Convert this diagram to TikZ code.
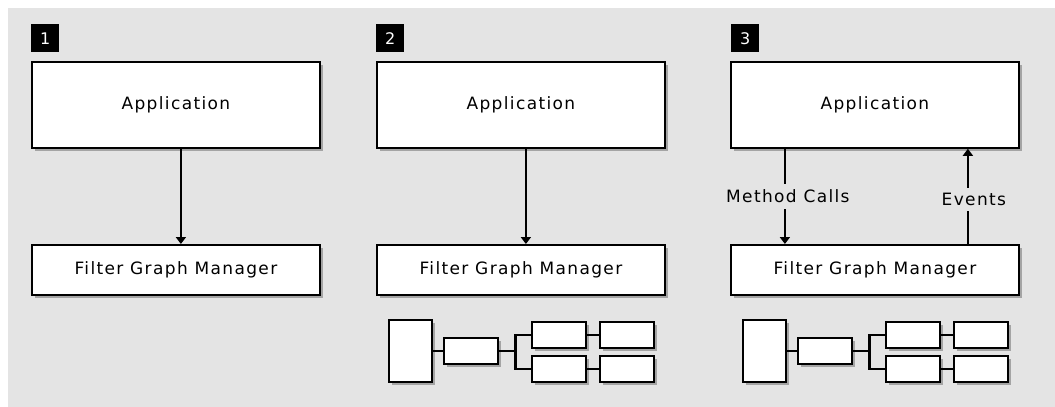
\documentclass[tikz,border=0pt]{standalone}
\usepackage{fontspec}
\setmainfont{DejaVu Sans}
\newfontfamily\lblfont[LetterSpace=8]{DejaVu Sans}
\usetikzlibrary{arrows.meta,shadows}
\definecolor{bg}{HTML}{E4E4E4}
\definecolor{shd}{HTML}{A4A4A4}
\tikzset{
  x=1pt, y=-1pt,
  shad/.style={drop shadow={shadow xshift=3pt, shadow yshift=-3pt, fill=shd, opacity=1}},
  bigbox/.style={draw=black, line width=1.8pt, fill=white, minimum width=288pt,
    inner sep=0pt, anchor=north west, shad,
    font=\lblfont\fontsize{17}{19}\selectfont},
  appbox/.style={bigbox, minimum height=86pt},
  fgmbox/.style={bigbox, minimum height=50pt},
  badge/.style={fill=black, text=white, minimum width=28pt, minimum height=28pt,
    inner sep=0pt, anchor=north west, font=\fontsize{16}{18}\selectfont},
  fbox/.style={draw=black, line width=2.4pt, fill=white, inner sep=0pt,
    anchor=north west, shad, minimum width=54pt, minimum height=26pt},
  tallbox/.style={fbox, minimum width=43pt, minimum height=62pt},
  link/.style={draw=black, line width=2.2pt},
  arr/.style={draw=black, line width=1.8pt, -{Triangle[width=10pt,length=7pt]}},
  lbl/.style={fill=bg, inner xsep=2pt, font=\lblfont\fontsize{17}{19}\selectfont},
}
\newcommand{\fgraph}[2]{%
  \node[tallbox] (big#2) at (#1,319) {};
  \node[fbox] (mid#2) at (#1+55,337) {};
  \node[fbox] (ta#2) at (#1+143,321) {};
  \node[fbox] (tb#2) at (#1+211,321) {};
  \node[fbox] (ba#2) at (#1+143,355) {};
  \node[fbox] (bb#2) at (#1+211,355) {};
  \draw[link] (big#2.east) -- (mid#2.west);
  \draw[link] (mid#2.east) -- ++(16,0) coordinate (br#2) |- (ta#2.west);
  \draw[link] (br#2) |- (ba#2.west);
  \draw[link] (ta#2) -- (tb#2);
  \draw[link] (ba#2) -- (bb#2);
}
\begin{document}
\begin{tikzpicture}
\useasboundingbox (0,0) rectangle (1055,407);
\fill[white] (0,0) rectangle (1055,407);
\fill[bg] (8,8) rectangle (1055,407);

% panel 1
\node[badge] (b1) at (31,24) {1};
\node[appbox] (app1) at (31,61) {Application};
\node[fgmbox] (fgm1) at (31,244) {Filter Graph Manager};
\draw[arr] ([xshift=5pt]app1.south) -- ([xshift=5pt]fgm1.north);

% panel 2
\node[badge] (b2) at (376,24) {2};
\node[appbox] (app2) at (376,61) {Application};
\node[fgmbox] (fgm2) at (376,244) {Filter Graph Manager};
\draw[arr] ([xshift=5pt]app2.south) -- ([xshift=5pt]fgm2.north);
\fgraph{388}{2}

% panel 3
\node[badge] (b3) at (731,24) {3};
\node[appbox] (app3) at (730,61) {Application};
\node[fgmbox] (fgm3) at (730,244) {Filter Graph Manager};
\draw[arr] ([xshift=-90pt]app3.south) -- node[lbl, xshift=3pt, inner ysep=6pt] {Method Calls} ([xshift=-90pt]fgm3.north);
\draw[arr] ([xshift=93pt]fgm3.north) -- node[lbl, xshift=6pt, yshift=-3pt, inner ysep=5pt] {Events} ([xshift=93pt]app3.south);
\fgraph{742}{3}
\end{tikzpicture}
\end{document}
